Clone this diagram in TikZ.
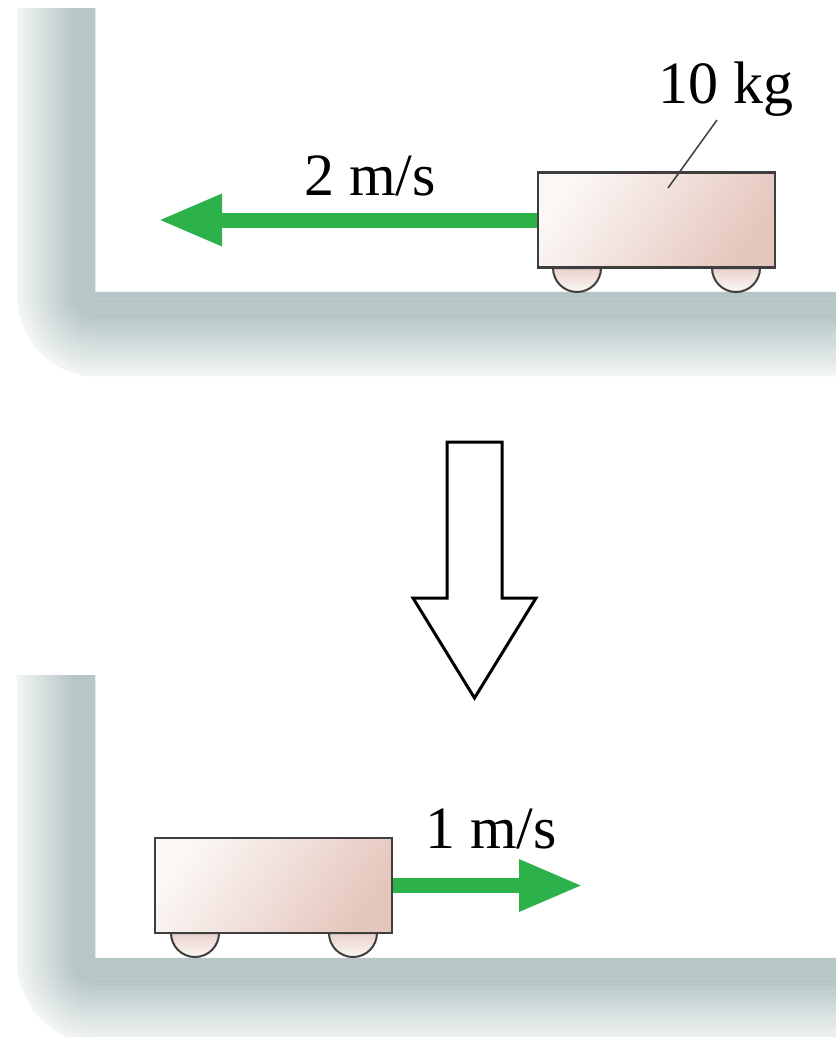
\documentclass[tikz,border=0pt]{standalone}
\usepackage{fontspec}
\setmainfont{Liberation Serif}
\usetikzlibrary{arrows.meta}
\definecolor{wallc}{RGB}{183,198,198}
\definecolor{cartlight}{RGB}{251,247,245}
\definecolor{cartdark}{RGB}{229,198,189}
\definecolor{cartedge}{RGB}{62,62,62}
\definecolor{velgreen}{RGB}{44,177,75}
\newcommand\drawwall[3]{%
  \foreach \d in {0.5,1.5,...,77.5} {
    \pgfmathsetmacro\pc{\d<22 ? 100 : max(18,100-(\d-22)*82/55)}
    \draw[wallc!\pc!white, line width=1.5pt] (#1-\d,#3) -- (#1-\d,#2)
      arc[start angle=180,end angle=270,x radius=\d,y radius=1.08*\d] -- (840,#2-1.08*\d);
  }}
\newcommand\drawwheel[2]{%
  \draw[wheelpart] (#1-24,#2) arc[start angle=180,end angle=360,radius=24] -- cycle;}
\tikzset{
  cartbox/.style={draw=cartedge, line width=2.5pt, shade, top color=cartlight,
    bottom color=cartdark, shading angle=55, minimum width=237pt,
    minimum height=95pt, inner sep=0pt, outer sep=0pt},
  wheelpart/.style={draw=cartedge, line width=2pt, top color=cartdark!80!white,
    bottom color=cartlight},
  velarrow/.style={draw=velgreen, line width=15pt,
    -{Triangle[length=64pt,width=48pt]}},
  lbl/.style={font=\fontsize{60}{72}\selectfont, anchor=base, inner sep=0pt},
  bigarrow/.style={draw=black, fill=white, line width=3pt, line join=miter}
}
\begin{document}
\begin{tikzpicture}[x=1pt,y=1pt]
\useasboundingbox (0,0) rectangle (836,-1037);
\clip (0,0) rectangle (836,-1037);
\fill[white] (0,0) rectangle (836,-1037);
% walls and floors
\drawwall{95}{-292}{-8}
\drawwall{95}{-958}{-675}
% top scene
\drawwheel{577}{-268}
\drawwheel{736}{-268}
\node[cartbox] (cartA) at (656.5,-220) {};
\coordinate (tipA) at (158,-220);
\draw[velarrow, shorten <=1.2pt] (cartA.west) -- (tipA);
\node[lbl] (velA) at (370,-195) {2 m/s};
\node[lbl] (massA) at (726,-103) {10 kg};
\coordinate (leadA) at (717,-120);
\coordinate (leadB) at (668,-188);
\draw[cartedge, line width=1.5pt] (leadA) -- (leadB);
% transition arrow
\draw[bigarrow] (447,-442) -- (502,-442) -- (502,-598) -- (536,-598)
  -- (474.5,-698) -- (413,-598) -- (447,-598) -- cycle;
% bottom scene
\drawwheel{195}{-933}
\drawwheel{353}{-933}
\node[cartbox] (cartB) at (273.5,-885.5) {};
\coordinate (tipB) at (583,-885.5);
\draw[velarrow, shorten <=1.2pt] (cartB.east) -- (tipB);
\node[lbl] (velB) at (491,-848) {1 m/s};
\end{tikzpicture}
\end{document}
